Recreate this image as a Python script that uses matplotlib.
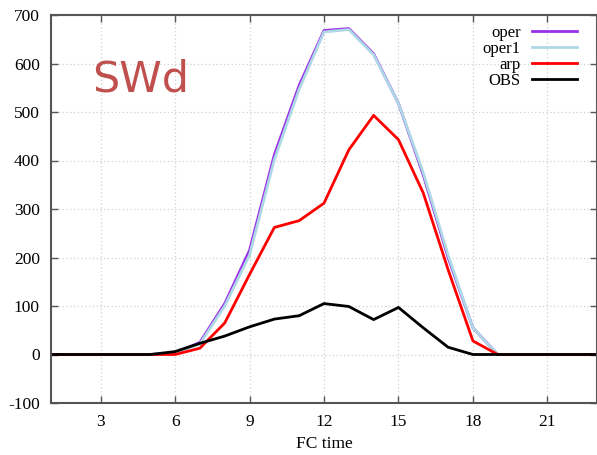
import matplotlib
matplotlib.use("Agg")
import matplotlib.pyplot as plt

hours = list(range(1, 24))
oper  = [0, 0, 0, 0, 0, 3, 25, 105, 215, 412, 555, 668, 672, 620, 518, 370, 200, 55, 0, 0, 0, 0, 0]
oper1 = [0, 0, 0, 0, 0, 3, 22, 100, 205, 402, 547, 665, 670, 618, 518, 375, 205, 55, 0, 0, 0, 0, 0]
arp   = [0, 0, 0, 0, 0, 0, 13, 65, 165, 262, 276, 312, 422, 493, 443, 333, 175, 28, 0, 0, 0, 0, 0]
obs   = [0, 0, 0, 0, 0, 6, 23, 38, 57, 73, 80, 105, 99, 72, 97, 55, 15, 0, 0, 0, 0, 0, 0]
xticks = [3, 6, 9, 12, 15, 18, 21]
yticks = list(range(-100, 701, 100))

plt.rcParams['font.family'] = ['Liberation Serif', 'DejaVu Serif']
plt.rcParams['axes.unicode_minus'] = False
fig = plt.figure(figsize=(5.97, 4.55), dpi=100)
ax = fig.add_axes([51/597, 52/455, 546/597, 388/455])

ax.plot(hours, oper, color='#9b30e8', lw=2, label='oper')
ax.plot(hours, oper1, color='#add8e6', lw=2, label='oper1')
ax.plot(hours, arp, color='#ff0000', lw=2, label='arp')
ax.plot(hours, obs, color='#000000', lw=2, label='OBS')

ax.set_xlim(1, 23)
ax.set_ylim(-100, 700)
ax.set_xticks(xticks)
ax.set_yticks(yticks)
ax.tick_params(direction='in', top=True, right=True, labelsize=12.5, length=5, width=1, color='#555555', pad=8)
ax.grid(True, color='#d0d0d0', linestyle=(0, (1, 2)), lw=0.9)
for s in ax.spines.values():
    s.set_color('#555555')
    s.set_linewidth(1.5)
ax.set_xlabel('FC time', fontsize=12.5)

leg = ax.legend(loc='upper right', frameon=False, markerfirst=False, fontsize=12,
                handlelength=2.7, labelspacing=0.0, borderaxespad=0.2, handletextpad=0.7,
                bbox_to_anchor=(0.982, 1.0))
for t in leg.get_texts():
    t.set_ha('right')

ax.text(0.075, 0.835, 'SWd', transform=ax.transAxes, fontsize=31, color='#c0504d',
        family='DejaVu Sans', va='center', ha='left')

fig.savefig('out.png', dpi=100)
